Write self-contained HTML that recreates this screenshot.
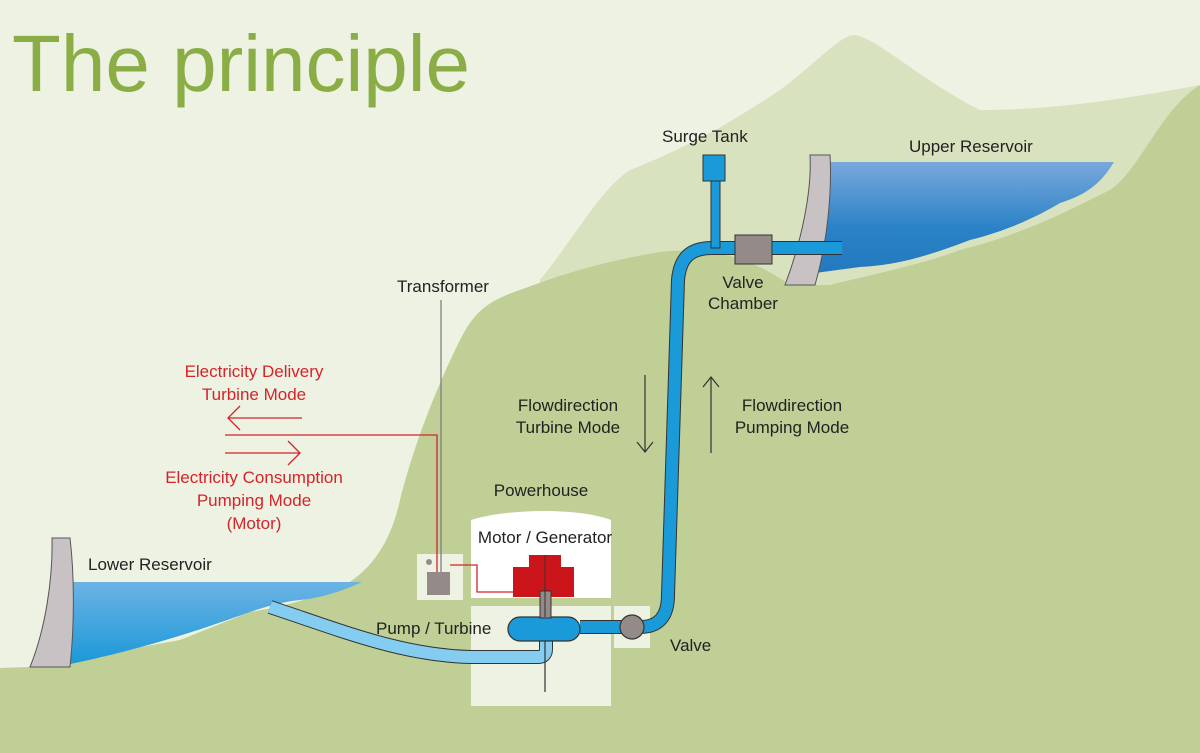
<!DOCTYPE html>
<html><head><meta charset="utf-8"><style>
html,body{margin:0;padding:0;background:#eef2e3;}
svg{display:block;font-family:"Liberation Sans",Arial,sans-serif;}
</style></head><body>
<svg width="1200" height="753" viewBox="0 0 1200 753">
<defs>
<linearGradient id="upw" x1="0" y1="0" x2="0" y2="1"><stop offset="0" stop-color="#7aa8dc"/><stop offset="0.6" stop-color="#2a82c6"/><stop offset="1" stop-color="#2479be"/></linearGradient>
<linearGradient id="loww" x1="0" y1="0" x2="0" y2="1"><stop offset="0" stop-color="#6db3e4"/><stop offset="1" stop-color="#1a98d8"/></linearGradient>
</defs>
<rect width="1200" height="753" fill="#eef2e3"/>
<path fill="#d8e2bf" d="M540,280 C580,230 600,190 630,170 C680,150 720,130 780,90 C820,60 840,35 855,35 C880,40 920,80 980,110 C1050,110 1120,100 1200,85 L1200,300 L540,300 Z"/>
<path fill="#bfcf96" d="M0,668 L30,667 L180,640 L250,612 C290,606 320,595 345,585 C370,570 390,545 400,500 C415,440 440,380 460,340 C475,310 490,300 520,290 C560,275 600,262 660,252 C700,248 740,250 790,285 L830,285 C870,275 920,265 960,250 C1020,235 1060,215 1110,190 C1140,170 1160,110 1200,85 L1200,753 L0,753 Z"/>
<path fill="url(#upw)" d="M822,162 L1114,162 C1100,185 1085,195 1060,203 C1040,215 1010,230 970,240 C930,255 900,265 860,267 L815,273 Z"/>
<path fill="#c8c2c4" stroke="#555" stroke-width="1" d="M810,155 L830,155 C832,190 828,240 815,285 L785,285 C802,240 812,190 810,155 Z"/>
<path fill="url(#loww)" d="M70,582 L362,582 C340,592 320,598 300,600 C280,602 262,608 250,612 C200,630 140,650 65,665 Z"/>
<path fill="#c8c2c4" stroke="#555" stroke-width="1" d="M52,538 L70,538 C75,580 74,630 70,667 L30,667 C45,630 53,580 52,538 Z"/>
<rect x="417" y="554" width="46" height="46" fill="#eef2e3"/>
<path fill="#fff" d="M471,598 L471,520 C510,508 580,508 611,520 L611,598 Z"/>
<rect x="471" y="606" width="140" height="100" fill="#eef2e3"/>
<rect x="614" y="606" width="36" height="42" fill="#eef2e3"/>
<path fill="none" stroke="#333" stroke-width="14" d="M270,607 C340,630 400,655 470,657 L538,657 Q546,657 546,649 L546,638"/>
<path fill="none" stroke="#85cdf0" stroke-width="12" d="M270,607 C340,630 400,655 470,657 L538,657 Q546,657 546,649 L546,638"/>
<line x1="545" y1="560" x2="545" y2="692" stroke="#333" stroke-width="1.2"/>
<path fill="none" stroke="#333" stroke-width="14" d="M580,627 L640,627 C660,627 668,615 668,595 L678,280 C680,258 690,248 712,248 L842,248"/>
<path fill="none" stroke="#1a9ad8" stroke-width="12" d="M580,627 L640,627 C660,627 668,615 668,595 L678,280 C680,258 690,248 712,248 L842,248"/>
<rect x="711" y="178" width="9" height="70" fill="#1a9ad8" stroke="#333" stroke-width="1"/>
<rect x="703" y="155" width="22" height="26" fill="#1a9ad8" stroke="#333" stroke-width="1"/>
<rect x="735" y="235" width="37" height="29" fill="#948b88" stroke="#333" stroke-width="1"/>
<rect x="508" y="617" width="72" height="24" rx="12" fill="#1a9ad8" stroke="#333" stroke-width="1.2"/>
<circle cx="632" cy="627" r="12" fill="#948b88" stroke="#333" stroke-width="1.2"/>
<path fill="#cc151b" d="M513,567 L529,567 L529,555 L561,555 L561,567 L574,567 L574,597 L513,597 Z"/>
<rect x="540" y="591" width="11" height="27" fill="#948b88" stroke="#333" stroke-width="1"/>
<line x1="545" y1="555" x2="545" y2="617" stroke="#333" stroke-width="1"/>
<rect x="427" y="572" width="23" height="23" fill="#948b88"/>
<circle cx="429" cy="562" r="3" fill="#948b88"/>
<line x1="441" y1="300" x2="441" y2="572" stroke="#777" stroke-width="1.2"/>
<path d="M225,435 L437,435 L437,572 M450,565 L477,565 L477,592 L513,592" fill="none" stroke="#d4242a" stroke-width="1.3"/>
<path d="M302,418 L228,418 M240,406 L228,418 L240,430" fill="none" stroke="#d4242a" stroke-width="1.3"/>
<path d="M225,453 L300,453 M288,441 L300,453 L288,465" fill="none" stroke="#d4242a" stroke-width="1.3"/>
<path d="M645,375 L645,452 M637,442 L645,452 L653,442" fill="none" stroke="#333" stroke-width="1.2"/>
<path d="M711,453 L711,377 M703,387 L711,377 L719,387" fill="none" stroke="#333" stroke-width="1.2"/>
<text x="12" y="91" font-size="80" fill="#8aad45">The principle</text>
<g font-size="17" fill="#222">
<text x="662" y="142">Surge Tank</text>
<text x="909" y="152">Upper Reservoir</text>
<text x="743" y="288" text-anchor="middle"><tspan x="743">Valve</tspan><tspan x="743" dy="21">Chamber</tspan></text>
<text x="443" y="292" text-anchor="middle">Transformer</text>
<text x="568" y="411" text-anchor="middle"><tspan x="568">Flowdirection</tspan><tspan x="568" dy="22">Turbine Mode</tspan></text>
<text x="792" y="411" text-anchor="middle"><tspan x="792">Flowdirection</tspan><tspan x="792" dy="22">Pumping Mode</tspan></text>
<text x="541" y="496" text-anchor="middle">Powerhouse</text>
<text x="545" y="543" text-anchor="middle">Motor / Generator</text>
<text x="88" y="570">Lower Reservoir</text>
<text x="376" y="634">Pump / Turbine</text>
<text x="670" y="651">Valve</text>
</g>
<g font-size="17" fill="#d4242a" text-anchor="middle">
<text x="254" y="377"><tspan x="254">Electricity Delivery</tspan><tspan x="254" dy="23">Turbine Mode</tspan></text>
<text x="254" y="483"><tspan x="254">Electricity Consumption</tspan><tspan x="254" dy="23">Pumping Mode</tspan><tspan x="254" dy="23">(Motor)</tspan></text>
</g>
</svg>
</body></html>
